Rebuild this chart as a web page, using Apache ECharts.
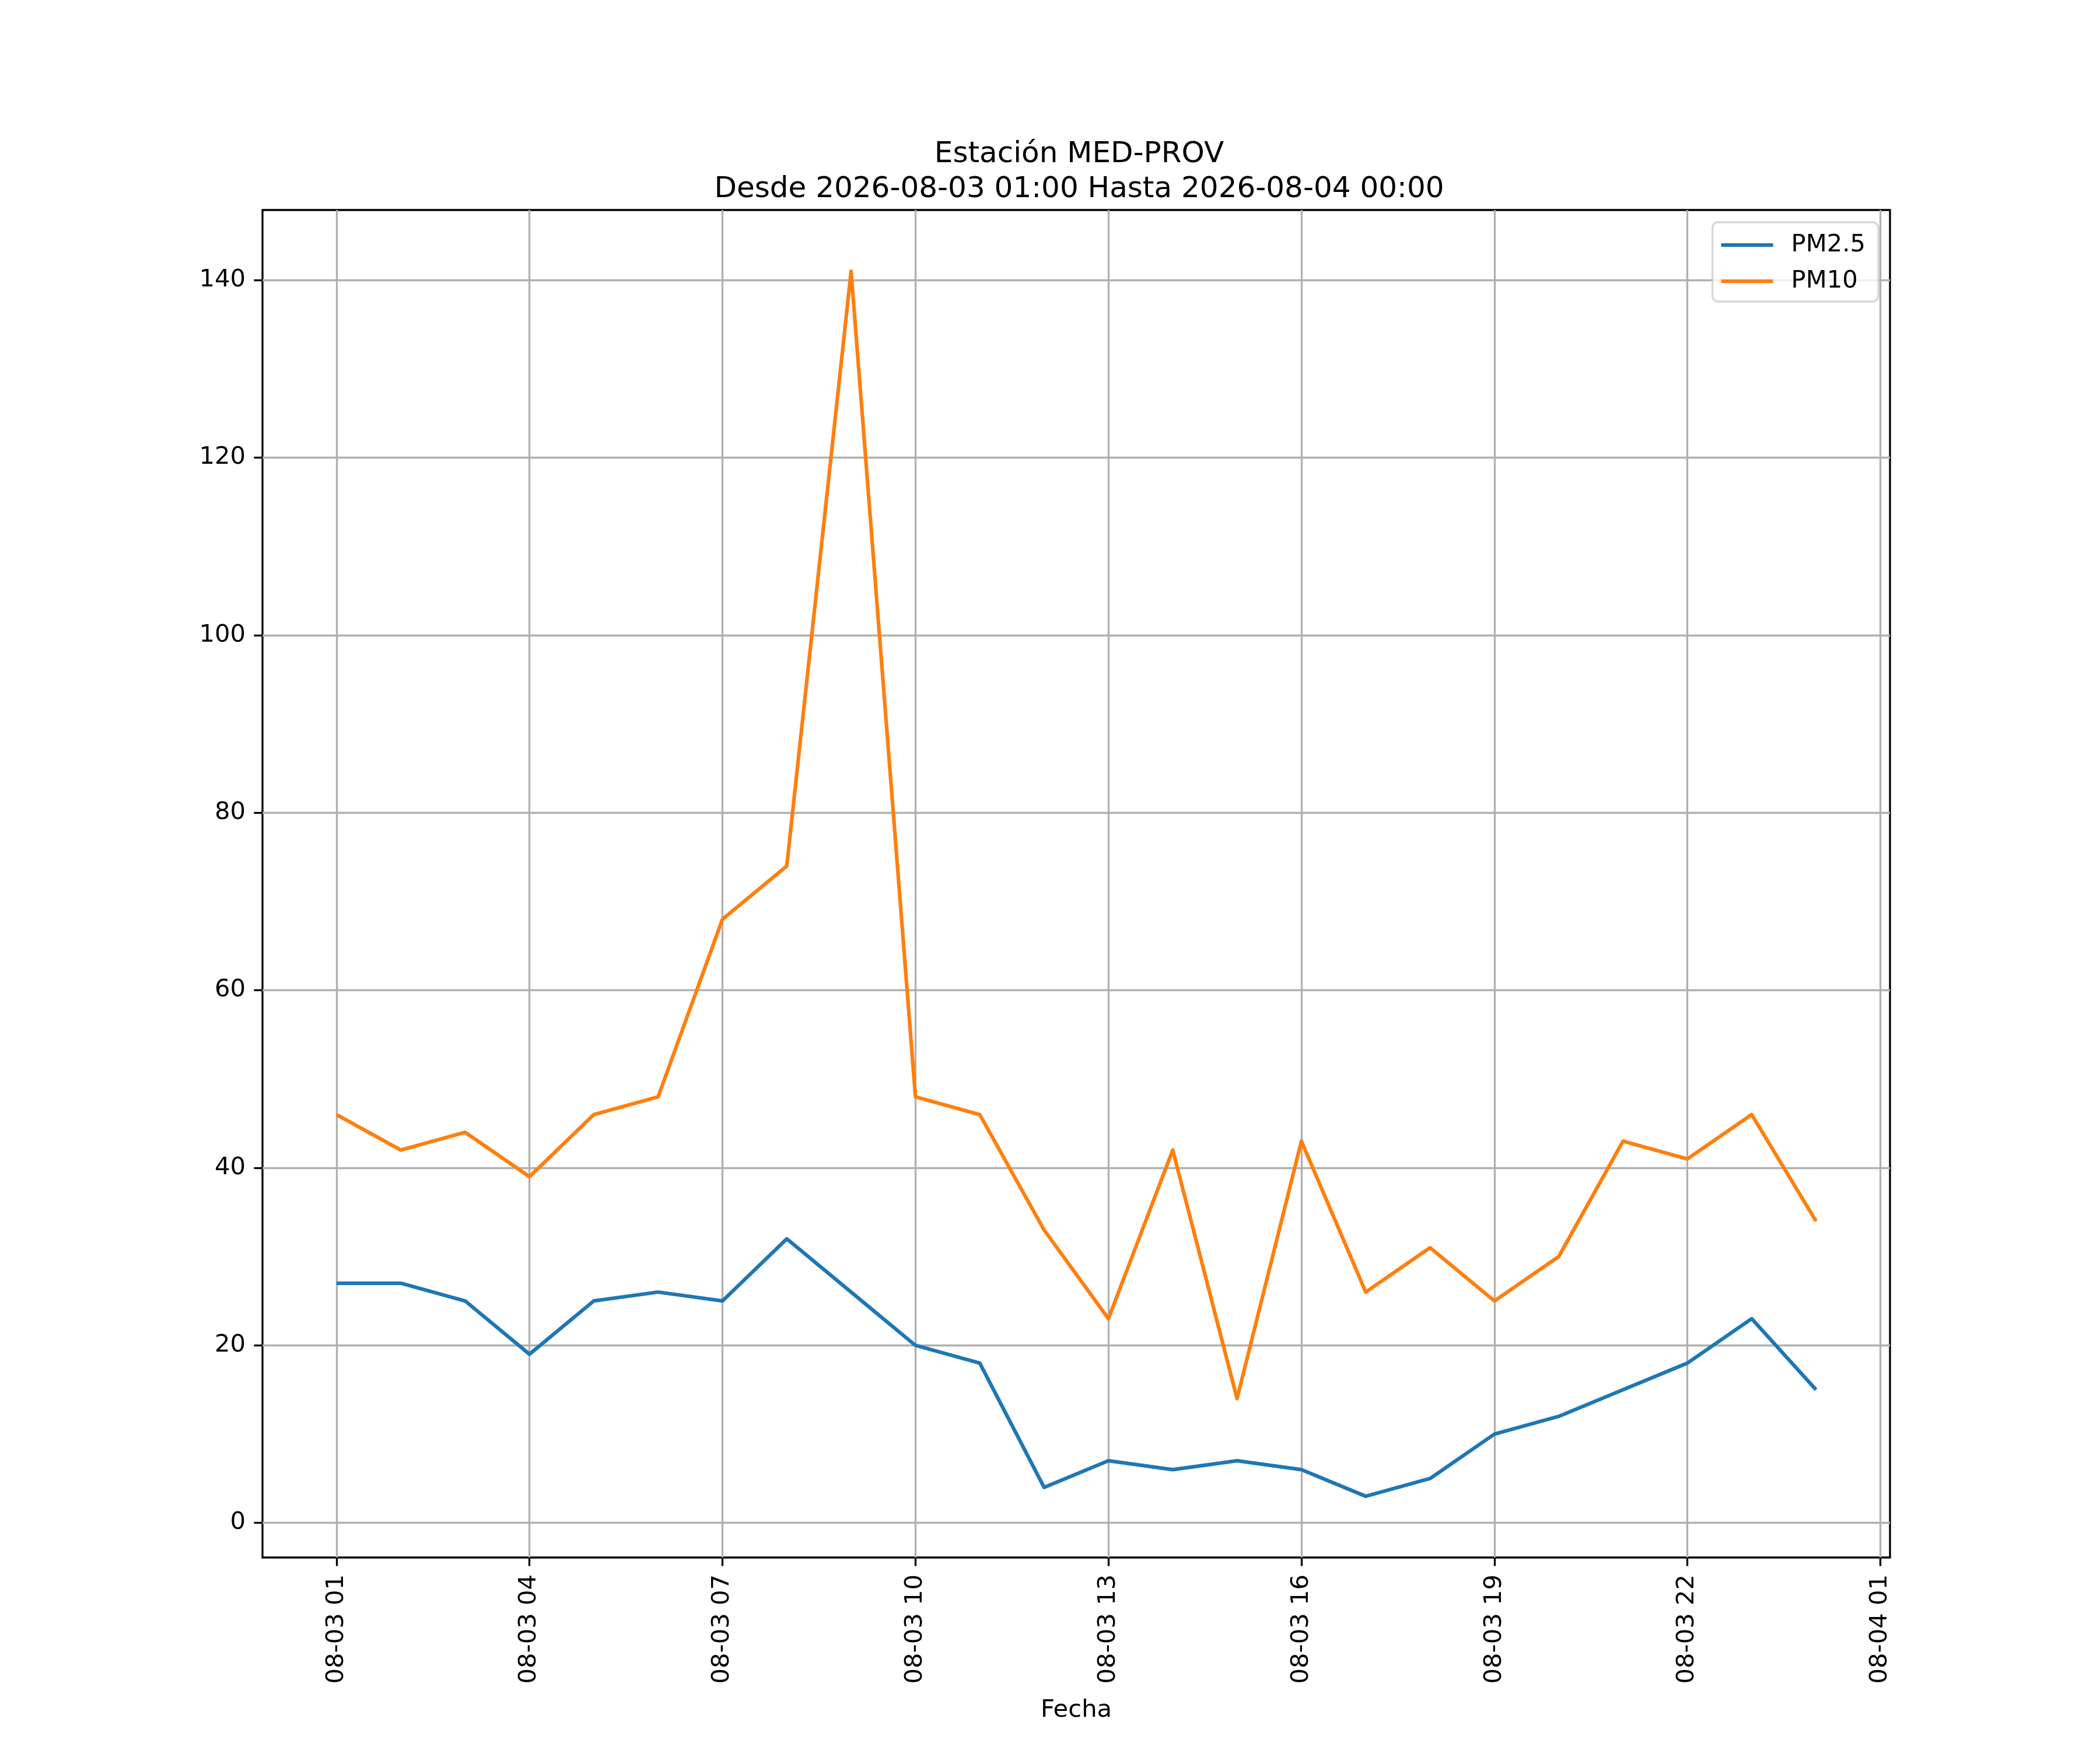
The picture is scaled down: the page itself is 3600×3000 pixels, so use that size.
<!DOCTYPE html>
<html>
<head>
<meta charset="utf-8">
<script src="https://cdn.jsdelivr.net/npm/echarts@6/dist/echarts.min.js"></script>
<style>
  html, body { margin: 0; padding: 0; background: #ffffff; }
  #chart { width: 3600px; height: 3000px; }
</style>
</head>
<body>
<div id="chart"></div>
<script>
// hourly readings, 2026-08-03 01:00 .. 2026-08-04 00:00
var times = ['2026-08-03T01:00', '2026-08-03T02:00', '2026-08-03T03:00', '2026-08-03T04:00',
             '2026-08-03T05:00', '2026-08-03T06:00', '2026-08-03T07:00', '2026-08-03T08:00',
             '2026-08-03T09:00', '2026-08-03T10:00', '2026-08-03T11:00', '2026-08-03T12:00',
             '2026-08-03T13:00', '2026-08-03T14:00', '2026-08-03T15:00', '2026-08-03T16:00',
             '2026-08-03T17:00', '2026-08-03T18:00', '2026-08-03T19:00', '2026-08-03T20:00',
             '2026-08-03T21:00', '2026-08-03T22:00', '2026-08-03T23:00', '2026-08-04T00:00'];
var pm25 = [27, 27, 25, 19, 25, 26, 25, 32, 26, 20, 18, 4, 7, 6, 7, 6, 3, 5, 10, 12, 15, 18, 23, 15];
var pm10 = [46, 42, 44, 39, 46, 48, 68, 74, 141, 48, 46, 33, 23, 42, 14, 43, 26, 31, 25, 30, 43, 41, 46, 34];

// x ticks, in hours since 2026-08-03 00:00
var tickHours = [1, 4, 7, 10, 13, 16, 19, 22, 25];
var tickLabels = ['08-03 01', '08-03 04', '08-03 07', '08-03 10', '08-03 13',
                  '08-03 16', '08-03 19', '08-03 22', '08-04 01'];
var yTicks = [0, 20, 40, 60, 80, 100, 120, 140];

var base = Date.parse('2026-08-03T00:00');
var hours = times.map(function (t) { return (Date.parse(t) - base) / 3600000; });

function pairs(vals) {
    return vals.map(function (v, i) { return [hours[i], v]; });
}

var font = 'DejaVu Sans';
var chart = echarts.init(document.getElementById('chart'), null, { renderer: 'canvas' });

var option = {
    animation: false,
    backgroundColor: '#ffffff',
    textStyle: { fontFamily: font },
    title: {
        text: 'Estación MED-PROV\nDesde 2026-08-03 01:00 Hasta 2026-08-04 00:00',
        left: 1845,
        top: 230,
        textAlign: 'center',
        textStyle: {
            fontFamily: font,
            fontWeight: 'normal',
            fontSize: 50,
            lineHeight: 60,
            color: '#000000'
        }
    },
    legend: {
        orient: 'vertical',
        right: 380,
        top: 381,
        padding: [14, 22, 10, 15],
        icon: 'rect',
        itemWidth: 89,
        itemHeight: 6.25,
        itemGap: 12,
        itemTextGap: 32,
        backgroundColor: 'rgba(255,255,255,0.8)',
        borderColor: 'rgba(204,204,204,0.8)',
        borderWidth: 3.3,
        borderRadius: 10,
        textStyle: {
            fontFamily: font, fontSize: 41.7, color: '#000000', lineHeight: 50,
            padding: [0, 0, 0, 26]
        },
        data: ['PM2.5', 'PM10']
    },
    grid: {
        left: 450,
        right: 360,
        top: 360,
        bottom: 330,
        show: true,
        borderColor: '#000000',
        borderWidth: 3.3,
        backgroundColor: 'transparent'
    },
    xAxis: {
        type: 'value',
        min: -0.15,
        max: 25.15,
        name: 'Fecha',
        nameLocation: 'middle',
        nameGap: 241,
        nameTextStyle: { fontFamily: font, fontSize: 41.7, color: '#000000', verticalAlign: 'top' },
        axisLine: { show: false, onZero: false },
        axisTick: {
            show: true,
            length: 14.6,
            customValues: tickHours,
            lineStyle: { color: '#000000', width: 3.3 }
        },
        axisLabel: {
            customValues: tickHours,
            rotate: 90,
            margin: 29,
            fontFamily: font,
            fontSize: 41.7,
            color: '#000000',
            formatter: function (v) {
                var k = tickHours.indexOf(v);
                return k >= 0 ? tickLabels[k] : '';
            }
        },
        splitLine: { show: true, lineStyle: { color: '#b0b0b0', width: 3.3 } }
    },
    yAxis: {
        type: 'value',
        min: -3.9,
        max: 147.9,
        axisLine: { show: false, onZero: false },
        axisTick: {
            show: true,
            length: 14.6,
            customValues: yTicks,
            lineStyle: { color: '#000000', width: 3.3 }
        },
        axisLabel: {
            customValues: yTicks,
            margin: 29,
            fontFamily: font,
            fontSize: 41.7,
            color: '#000000'
        },
        splitLine: { show: true, lineStyle: { color: '#b0b0b0', width: 3.3 } }
    },
    series: [{
        name: 'PM2.5',
        type: 'line',
        symbol: 'none',
        color: '#1f77b4',
        lineStyle: { width: 6.25, color: '#1f77b4', join: 'round' },
        data: pairs(pm25)
    }, {
        name: 'PM10',
        type: 'line',
        symbol: 'none',
        color: '#ff7f0e',
        lineStyle: { width: 6.25, color: '#ff7f0e', join: 'round' },
        data: pairs(pm10)
    }]
};
chart.setOption(option);
</script>
</body>
</html>
